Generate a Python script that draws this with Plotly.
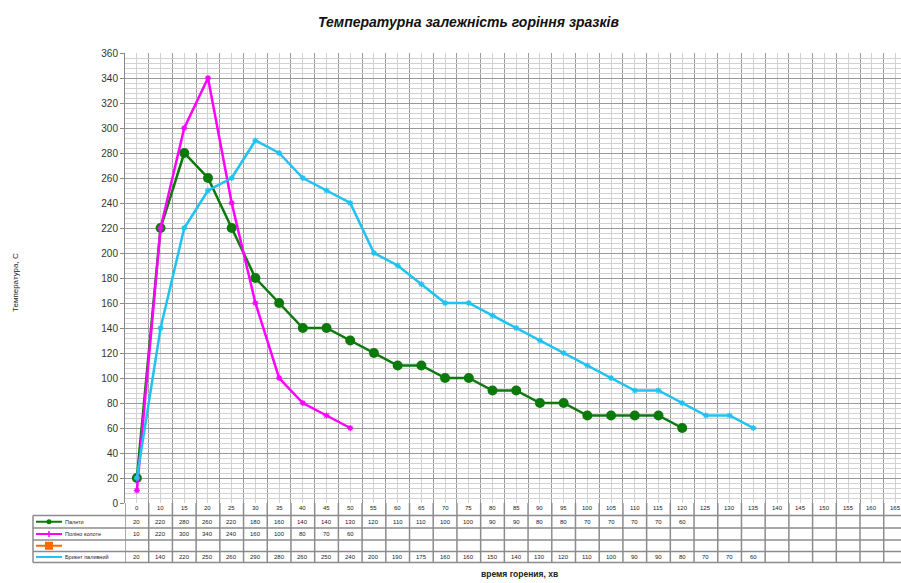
import plotly.graph_objects as go

# ---- data -------------------------------------------------------------
minutes = [0, 10, 15, 20, 25, 30, 35, 40, 45, 50, 55, 60, 65, 70, 75, 80, 85,
           90, 95, 100, 105, 110, 115, 120, 125, 130, 135, 140, 145, 150, 155,
           160, 165]

palety = [20, 220, 280, 260, 220, 180, 160, 140, 140, 130, 120, 110, 110, 100,
          100, 90, 90, 80, 80, 70, 70, 70, 70, 60]
polino = [10, 220, 300, 340, 240, 160, 100, 80, 70, 60]
empty_series = []
bryket = [20, 140, 220, 250, 260, 290, 280, 260, 250, 240, 200, 190, 175, 160,
          160, 150, 140, 130, 120, 110, 100, 90, 90, 80, 70, 70, 60]

series_names = ["Палети", "Поліно колоте", "", "Брикет паливний"]
series_values = [palety, polino, empty_series, bryket]
series_colors = ["#0b7a0b", "#ff00ff", "#ff6a00", "#1ec3f2"]

y_ticks = list(range(0, 361, 20))

title_text = "Температурна залежність горіння зразків"
y_title = "Температура, С"
x_title = "время горения, хв"

# ---- geometry ---------------------------------------------------------
W, H = 901, 583
L, T, R, B = 125, 53, 0, 80
PW, PH = W - L - R, H - T - B
CAT_W = 23.71  # pixel width of one category slot


def px(x):
    return (x - L) / PW


def py(y):
    return (T + PH - y) / PH


n_cat = len(minutes)
x_right = -0.5 + PW / CAT_W

fig = go.Figure()

markers = [
    dict(symbol="circle", size=10, color="#0b7a0b", line=dict(width=0)),
    dict(symbol="asterisk-open", size=5, color="#ff00ff", line=dict(width=1.3, color="#ff00ff")),
    dict(symbol="square", size=8, color="#ff6a00"),
    dict(symbol="asterisk-open", size=5, color="#1ec3f2", line=dict(width=1.3, color="#1ec3f2")),
]

for name, vals, col, mk in zip(series_names, series_values, series_colors, markers):
    fig.add_trace(go.Scatter(
        x=list(range(len(vals))), y=vals, mode="lines+markers", name=name,
        line=dict(color=col, width=2.5), marker=mk, showlegend=False,
        cliponaxis=False,
    ))

grid_dark = "#9a9a9a"
grid_light = "#d2d2d2"

fig.update_xaxes(
    range=[-0.5, x_right], showticklabels=False, ticks="",
    tickvals=list(range(n_cat)), showgrid=True, gridcolor=grid_light, gridwidth=1,
    minor=dict(tickvals=[i - 0.5 for i in range(n_cat + 1)], showgrid=True,
               gridcolor=grid_dark, gridwidth=1),
    zeroline=False, showline=False, fixedrange=True,
)
fig.update_yaxes(
    range=[0, 360], tickvals=y_ticks, showgrid=True, gridcolor=grid_dark, gridwidth=1,
    minor=dict(dtick=4, showgrid=True, gridcolor=grid_light, gridwidth=1),
    ticks="outside", ticklen=4, tickcolor="#888", showline=True, linecolor="#888",
    linewidth=1, zeroline=False,
    tickfont=dict(family="Liberation Sans, Arial, sans-serif", size=10, color="#333"),
)

shapes = []
annotations = []
line_col = "#8c8c8c"

# data table under the plot
row_lines = [515.5, 528, 540, 551.5, 562.5]
for yy in row_lines:
    shapes.append(dict(type="line", xref="paper", yref="paper", x0=px(33), x1=1.0,
                       y0=py(yy), y1=py(yy), line=dict(color=line_col, width=1.5)))
shapes.append(dict(type="line", xref="paper", yref="paper", x0=px(33), x1=px(33),
                   y0=py(row_lines[0]), y1=py(row_lines[-1]),
                   line=dict(color=line_col, width=1.5)))
for i in range(n_cat + 1):
    shapes.append(dict(type="line", xref="x", yref="paper", x0=i - 0.5, x1=i - 0.5,
                       y0=py(T + PH), y1=py(row_lines[-1]),
                       line=dict(color=line_col, width=1.5)))

cell_font = dict(family="Liberation Sans, Arial, sans-serif", size=6, color="#222")

for i, m in enumerate(minutes):
    annotations.append(dict(x=i, y=py(508.5), xref="x", yref="paper", text=str(m),
                            showarrow=False, font=cell_font, xanchor="center",
                            yanchor="middle"))

for r, (name, vals, col) in enumerate(zip(series_names, series_values, series_colors)):
    yc = (row_lines[r] + row_lines[r + 1]) / 2
    for i, v in enumerate(vals):
        annotations.append(dict(x=i, y=py(yc), xref="x", yref="paper", text=str(v),
                                showarrow=False, font=cell_font, xanchor="center",
                                yanchor="middle"))
    # legend key
    shapes.append(dict(type="line", xref="paper", yref="paper", x0=px(36), x1=px(62),
                       y0=py(yc), y1=py(yc), line=dict(color=col, width=2)))
    if r == 0:
        shapes.append(dict(type="circle", xref="paper", yref="paper",
                           x0=px(46.5), x1=px(51.5), y0=py(yc + 2.5), y1=py(yc - 2.5),
                           fillcolor=col, line=dict(width=0)))
    elif r == 1:
        shapes.append(dict(type="line", xref="paper", yref="paper", x0=px(49), x1=px(49),
                           y0=py(yc + 3), y1=py(yc - 3), line=dict(color=col, width=1.5)))
    elif r == 2:
        shapes.append(dict(type="rect", xref="paper", yref="paper",
                           x0=px(45), x1=px(53), y0=py(yc + 4), y1=py(yc - 4),
                           fillcolor=col, line=dict(width=0)))
    if name:
        annotations.append(dict(x=px(63), y=py(yc), xref="paper", yref="paper",
                                text=name, showarrow=False, xanchor="left",
                                yanchor="middle",
                                font=dict(family="Liberation Sans, Arial, sans-serif",
                                          size=5.5, color="#222")))

# titles
annotations.append(dict(x=px(468), y=py(22), xref="paper", yref="paper",
                        text="<b><i>" + title_text + "</i></b>", showarrow=False,
                        xanchor="center", yanchor="middle",
                        font=dict(family="Liberation Sans Narrow, Liberation Sans, Arial, sans-serif",
                                  size=14, color="#111")))
annotations.append(dict(x=px(15), y=py(283), xref="paper", yref="paper",
                        text=y_title, showarrow=False, textangle=-90,
                        xanchor="center", yanchor="middle",
                        font=dict(family="Liberation Sans, Arial, sans-serif",
                                  size=8, color="#222")))
annotations.append(dict(x=px(519), y=py(574), xref="paper", yref="paper",
                        text="<b>" + x_title + "</b>", showarrow=False,
                        xanchor="center", yanchor="middle",
                        font=dict(family="Liberation Sans, Arial, sans-serif",
                                  size=8.5, color="#222")))

fig.update_layout(
    width=W, height=H, margin=dict(l=L, r=R, t=T, b=B, autoexpand=False),
    paper_bgcolor="white", plot_bgcolor="white",
    shapes=shapes, annotations=annotations, showlegend=False,
)

fig.write_html("out.html")
